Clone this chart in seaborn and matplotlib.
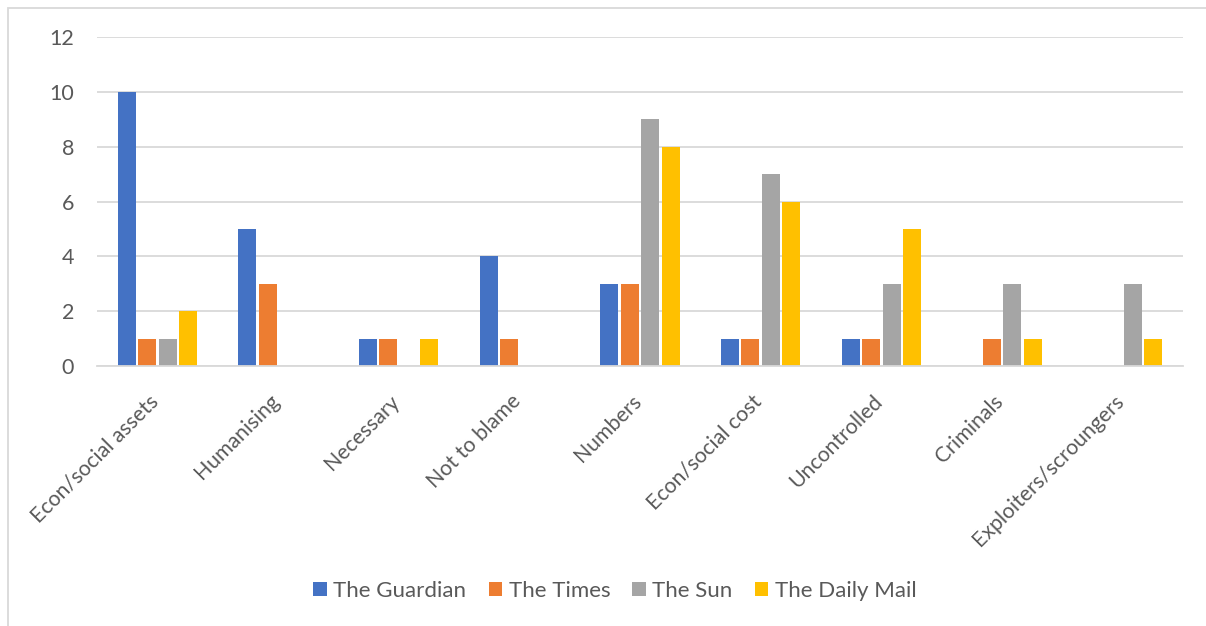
import matplotlib
matplotlib.use("Agg")
import matplotlib.pyplot as plt
from matplotlib.patches import Rectangle
from matplotlib.transforms import ScaledTranslation
import seaborn as sns
import pandas as pd

categories = ["Econ/social assets", "Humanising", "Necessary", "Not to blame", "Numbers",
              "Econ/social cost", "Uncontrolled", "Criminals", "Exploiters/scroungers"]
series_names = ["The Guardian", "The Times", "The Sun", "The Daily Mail"]
guardian = [10, 5, 1, 4, 3, 1, 1, 0, 0]
times = [1, 3, 1, 1, 3, 1, 1, 1, 0]
sun = [1, 0, 0, 0, 9, 7, 3, 3, 3]
daily_mail = [2, 0, 1, 0, 8, 6, 5, 1, 1]
colors = ["#4472C4", "#ED7D31", "#A5A5A5", "#FFC000"]
yticks = [0, 2, 4, 6, 8, 10, 12]

rows = []
for name, vals in zip(series_names, [guardian, times, sun, daily_mail]):
    for c, v in zip(categories, vals):
        rows.append({"category": c, "paper": name, "count": v})
df = pd.DataFrame(rows)

sns.set_theme(style="white")
plt.rcParams["font.family"] = ["Lato", "DejaVu Sans"]
text_color = "#595959"
grid_color = "#D9D9D9"
fs = 16

fig = plt.figure(figsize=(12.06, 6.26), dpi=100)
ax = fig.add_axes([97 / 1206, 1 - 366 / 626, (1183 - 97) / 1206, (366 - 37) / 626])

sns.barplot(data=df, x="category", y="count", hue="paper", order=categories,
            hue_order=series_names, palette=colors, width=0.68, gap=0.12,
            saturation=1, ax=ax, legend=True, linewidth=0)

ax.set_ylim(0, 12)
ax.set_yticks(yticks)
ax.set_yticklabels([str(t) for t in yticks], fontsize=15.5, color=text_color)
ax.set_xlim(-0.5, len(categories) - 0.5)
ax.yaxis.grid(True, color=grid_color, linewidth=1.3)
ax.set_axisbelow(True)
for s in ["top", "right", "left"]:
    ax.spines[s].set_visible(False)
ax.spines["bottom"].set_color(grid_color)
ax.spines["bottom"].set_linewidth(1.3)
ax.tick_params(axis="y", length=0, pad=16.5)
ax.tick_params(axis="x", length=0, pad=18)
ax.set_xlabel("")
ax.set_ylabel("")
ax.set_xticks(range(len(categories)))
ax.set_xticklabels(categories, rotation=45, ha="right", va="top",
                   fontsize=15.3, color=text_color)
shift = ScaledTranslation(5 / 100, 0, fig.dpi_scale_trans)
for lbl in ax.get_xticklabels():
    lbl.set_transform(lbl.get_transform() + shift)

handles, labels = ax.get_legend_handles_labels()
ax.get_legend().remove()
fig.legend(handles, labels, loc="center", bbox_to_anchor=(615 / 1206, 1 - 591 / 626),
           ncol=4, frameon=False, fontsize=fs, handlelength=0.6, handleheight=0.6,
           handletextpad=0.3, columnspacing=1.0, labelcolor=text_color)

fig.patches.append(Rectangle((8 / 1206, -0.01), 1.1, 1 - 8 / 626 + 0.01,
                             transform=fig.transFigure, fill=False,
                             edgecolor="#D9D9D9", linewidth=1.3))

fig.savefig("out.png", dpi=100)
